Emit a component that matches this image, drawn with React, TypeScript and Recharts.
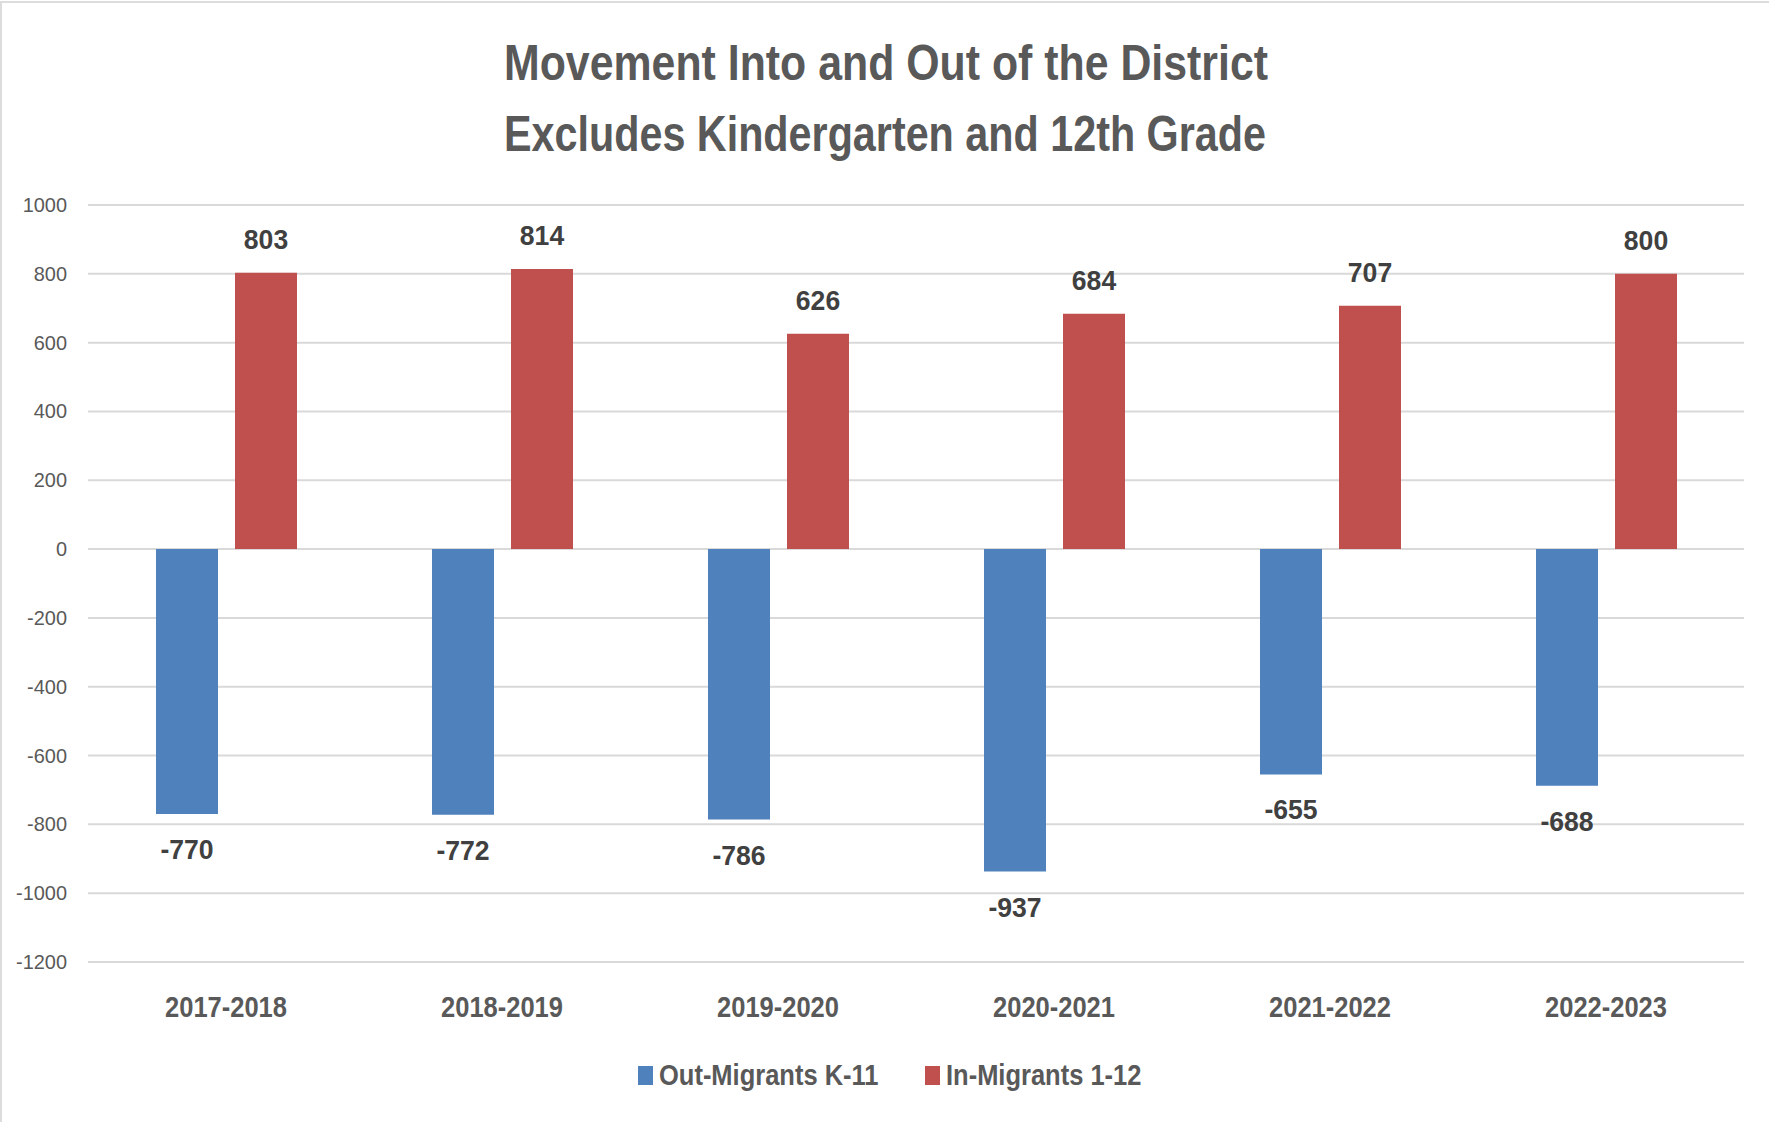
import React from 'react';
import { BarChart, Bar, XAxis, YAxis, CartesianGrid, LabelList, Legend } from 'recharts';

const categories = ['2017-2018', '2018-2019', '2019-2020', '2020-2021', '2021-2022', '2022-2023'];
const outMigrants = [-770, -772, -786, -937, -655, -688];
const inMigrants = [803, 814, 626, 684, 707, 800];
const yTicks = [1000, 800, 600, 400, 200, 0, -200, -400, -600, -800, -1000, -1200];
const titleLines = ['Movement Into and Out of the District', 'Excludes Kindergarten and 12th Grade'];
const seriesNames = { out: 'Out-Migrants K-11', in: 'In-Migrants 1-12' };
const seriesOrder = ['out', 'in'];

const data = categories.map((c, i) => ({ cat: c, out: outMigrants[i], in: inMigrants[i] }));

const FONT = "'Liberation Sans', Arial, sans-serif";
const BLUE = '#4f81bd';
const RED = '#c0504d';

const NarrowText = ({ x, y, sx, anchor, size, weight, fill, children }: any) => (
  <g transform={`translate(${x},${y}) scale(${sx},1)`}>
    <text x={0} y={0} textAnchor={anchor} fontFamily={FONT} fontWeight={weight} fontSize={size} fill={fill}>
      {children}
    </text>
  </g>
);

const XTick = (props: any) => {
  const { x, y, payload } = props;
  return (
    <NarrowText x={x} y={y + 47} sx={0.85} anchor="middle" size={30} weight="bold" fill="#595959">
      {payload.value}
    </NarrowText>
  );
};

const YTick = (props: any) => {
  const { y, payload } = props;
  return (
    <NarrowText x={67} y={y + 7} sx={0.95} anchor="end" size={21} weight="normal" fill="#595959">
      {payload.value}
    </NarrowText>
  );
};

const DataLabel = (props: any) => {
  const { x, y, width, height, value } = props;
  const cx = x + width / 2;
  const positive = value >= 0;
  const top = Math.min(y, y + height);
  const bottom = Math.max(y, y + height);
  const ty = positive ? top - 24 : bottom + 45;
  return (
    <NarrowText x={cx} y={ty} sx={0.95} anchor="middle" size={28} weight="bold" fill="#404040">
      {value}
    </NarrowText>
  );
};

const LegendContent = (props: any) => {
  const { payload } = props;
  const items = [...(payload || [])].sort(
    (a: any, b: any) => seriesOrder.indexOf(a.dataKey) - seriesOrder.indexOf(b.dataKey)
  );
  const xs = [638, 925];
  return (
    <svg width={1769} height={80} style={{ display: 'block' }}>
      {items.map((p: any, i: number) => (
        <g key={i}>
          <rect x={xs[i]} y={24} width={15} height={19} fill={p.color} />
          <NarrowText x={xs[i] + 21} y={43} sx={0.85} anchor="start" size={30} weight="bold" fill="#595959">
            {p.value}
          </NarrowText>
        </g>
      ))}
    </svg>
  );
};

export default function App() {
  return (
    <div style={{ position: 'absolute', left: 0, top: 0, width: 1769, height: 1122, background: '#fff' }}>
      <div style={{ position: 'absolute', left: 0, top: 1, width: 1769, height: 2, background: '#dcdcdc' }} />
      <div style={{ position: 'absolute', left: 0, top: 1, width: 2, height: 1121, background: '#dcdcdc' }} />
      <svg width={1769} height={180} style={{ position: 'absolute', left: 0, top: 0 }}>
        <text x={886} y={80} textAnchor="middle" fontFamily={FONT} fontWeight="bold" fontSize={50} fill="#595959" textLength={764} lengthAdjust="spacingAndGlyphs">
          {titleLines[0]}
        </text>
        <text x={885} y={151} textAnchor="middle" fontFamily={FONT} fontWeight="bold" fontSize={50} fill="#595959" textLength={762} lengthAdjust="spacingAndGlyphs">
          {titleLines[1]}
        </text>
      </svg>
      <div style={{ position: 'absolute', left: 0, top: 0 }}>
        <BarChart
          width={1769}
          height={1122}
          data={data}
          margin={{ top: 205, right: 25, bottom: 0, left: 0 }}
          barGap={17}
          barCategoryGap={68}
        >
          <CartesianGrid vertical={false} stroke="#d9d9d9" strokeWidth={2} />
          <XAxis dataKey="cat" axisLine={false} tickLine={false} height={80} tick={<XTick />} interval={0} />
          <YAxis
            domain={[-1200, 1000]}
            ticks={yTicks}
            axisLine={false}
            tickLine={false}
            width={88}
            tick={<YTick />}
            interval={0}
          />
          <Legend verticalAlign="bottom" align="left" wrapperStyle={{ left: 0, width: 1769 }} content={<LegendContent />} />
          <Bar dataKey="out" name={seriesNames.out} fill={BLUE} isAnimationActive={false}>
            <LabelList dataKey="out" content={<DataLabel />} />
          </Bar>
          <Bar dataKey="in" name={seriesNames.in} fill={RED} isAnimationActive={false}>
            <LabelList dataKey="in" content={<DataLabel />} />
          </Bar>
        </BarChart>
      </div>
    </div>
  );
}
